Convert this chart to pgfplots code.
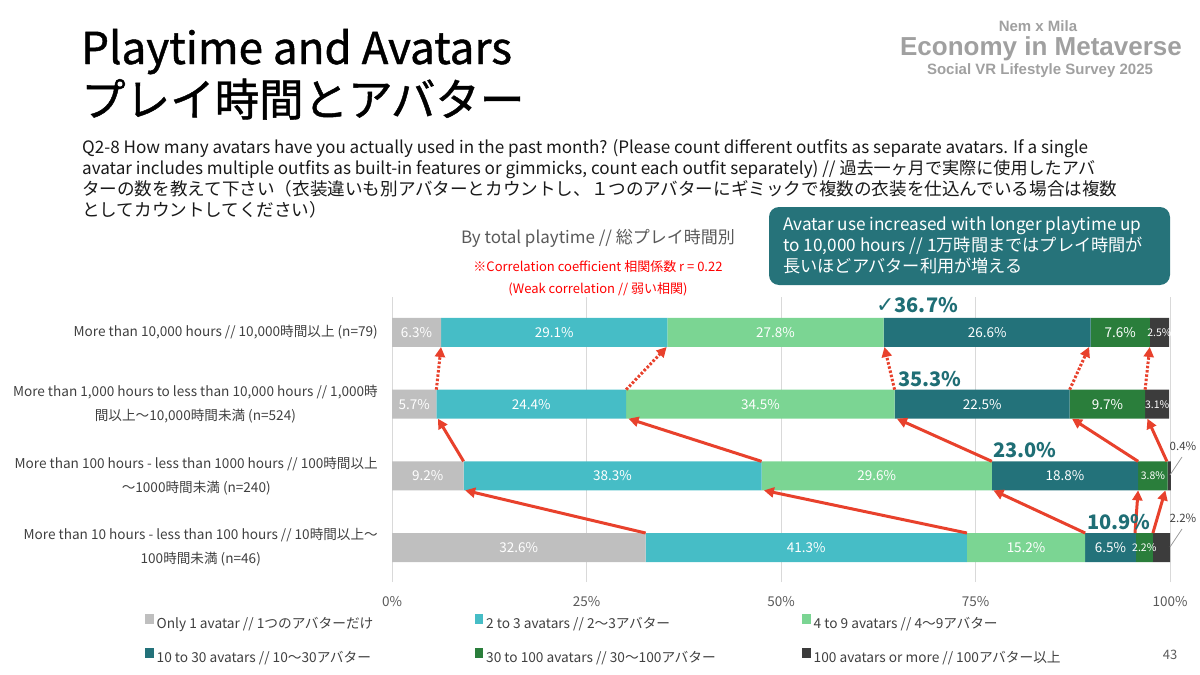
\documentclass[border=0pt]{standalone}
\usepackage{pgfplots}
\pgfplotsset{compat=1.18}
\usetikzlibrary{arrows.meta}
\usepackage{fontspec}
\setmainfont{Noto Sans CJK JP}
\newfontfamily\titlefont{Noto Sans CJK JP}[FakeBold=1]
\newfontfamily\logofont{Liberation Sans}
\newfontfamily\dejavu{DejaVu Sans}
\newcommand\fs[2]{\fontsize{#1bp}{#2bp}\selectfont}
\definecolor{c1}{HTML}{BFBFBF}
\definecolor{c2}{HTML}{46BDC6}
\definecolor{c3}{HTML}{7BD593}
\definecolor{c4}{HTML}{23727A}
\definecolor{c5}{HTML}{2A7E3B}
\definecolor{c6}{HTML}{3C3C3C}
\definecolor{gridc}{HTML}{D9D9D9}
\definecolor{tickc}{HTML}{595959}
\definecolor{labc}{HTML}{404040}
\definecolor{redc}{HTML}{E8412C}
\definecolor{annc}{HTML}{1F6E75}
\definecolor{boxc}{HTML}{26737A}
\definecolor{logoc}{HTML}{A0A0A0}
\pgfplotsset{
  geom/.style={at={(392bp,-582bp)}, anchor=south west,
    width=778bp, height=285bp, scale only axis,
    xmin=0, xmax=100, ymin=0.519, ymax=4.495, clip=false}
}
\begin{document}
\begin{tikzpicture}[
  bl/.style={text=white, font=\fs{13.5}{16}, inner sep=0pt},
  bls/.style={text=white, font=\fs{10.5}{12}, inner sep=0pt},
  arr/.style={draw=redc, line width=3bp, -{Triangle[length=10bp,width=10bp]}},
  darr/.style={arr, dash pattern=on 2.5bp off 1.8bp}]
\path[use as bounding box] (0,0) rectangle (1200bp,-675bp);

\begin{axis}[geom,
  xbar stacked, bar width=29bp,
  xtick={0,25,50,75,100}, xticklabels={0\%,25\%,50\%,75\%,100\%},
  ytick={1,2,3,4},
  yticklabels={{More than 10 hours - less than 100 hours // 10時間以上～\\100時間未満 (n=46)},
               {More than 100 hours - less than 1000 hours // 100時間以上\\～1000時間未満 (n=240)},
               {More than 1,000 hours to less than 10,000 hours // 1,000時\\間以上～10,000時間未満 (n=524)},
               {More than 10,000 hours // 10,000時間以上 (n=79)}},
  xmajorgrids, major grid style={color=gridc, line width=1bp},
  axis line style={draw=none}, major tick length=0pt, tick style={draw=none},
  xticklabel style={font=\fs{13.5}{16}, text=tickc, inner sep=0pt, anchor=center, yshift=-20bp},
  yticklabel style={font=\fs{13.6}{24}, text=labc, align=center, inner sep=0pt, anchor=east, xshift=-14bp},
  legend style={draw=none, fill=none, at={(-0.3175,-0.112)}, anchor=north west,
    font=\fs{13.7}{15}, text=labc, row sep=18.5bp, inner sep=0pt,
    nodes={inner sep=0pt},
    /tikz/every odd column/.style={column sep=3bp},
    /tikz/every even column/.style={column sep=0pt}},
  legend columns=3, legend cell align=left,
  legend image code/.code={\fill[#1] (0bp,-0.5bp) rectangle (8.5bp,9.5bp);},
]
\addplot[fill=c1, draw=none] coordinates {(6.3,4) (5.7,3) (9.2,2) (32.6,1)};
\addlegendentry{\makebox[318bp][l]{Only 1 avatar // 1つのアバターだけ}}
\addplot[fill=c2, draw=none] coordinates {(29.1,4) (24.4,3) (38.3,2) (41.3,1)};
\addlegendentry{\makebox[316bp][l]{2 to 3 avatars // 2～3アバター}}
\addplot[fill=c3, draw=none] coordinates {(27.8,4) (34.5,3) (29.6,2) (15.2,1)};
\addlegendentry{\makebox[318bp][l]{4 to 9 avatars // 4～9アバター}}
\addplot[fill=c4, draw=none] coordinates {(26.6,4) (22.5,3) (18.8,2) (6.5,1)};
\addlegendentry{\makebox[318bp][l]{10 to 30 avatars // 10～30アバター}}
\addplot[fill=c5, draw=none] coordinates {(7.6,4) (9.7,3) (3.8,2) (2.2,1)};
\addlegendentry{\makebox[316bp][l]{30 to 100 avatars // 30～100アバター}}
\addplot[fill=c6, draw=none] coordinates {(2.5,4) (3.1,3) (0.4,2) (2.2,1)};
\addlegendentry{\makebox[318bp][l]{100 avatars or more // 100アバター以上}}
\end{axis}

% overlay axis: labels and arrows
\begin{axis}[geom, axis lines=none]
% arrows row4 -> row3
\addplot[arr] coordinates {(32.6,1.2023) (9.4,1.7977)};
\addplot[arr] coordinates {(73.9,1.2023) (47.8,1.7977)};
\addplot[arr] coordinates {(89.1,1.2023) (77.3,1.7977)};
\addplot[arr] coordinates {(95.5,1.2023) (95.9,1.7977)};
\addplot[arr] coordinates {(97.8,1.2023) (99.4,1.7977)};
% arrows row3 -> row2
\addplot[arr] coordinates {(9.2,2.2023) (5.9,2.7977)};
\addplot[arr] coordinates {(47.5,2.2023) (30.4,2.7977)};
\addplot[arr] coordinates {(77.1,2.2023) (64.9,2.7977)};
\addplot[arr] coordinates {(95.9,2.2023) (87.4,2.7977)};
\addplot[arr] coordinates {(99.6,2.2023) (97.1,2.7977)};
% dotted arrows row2 -> row1
\addplot[darr] coordinates {(5.7,3.2023) (6.3,3.7977)};
\addplot[darr] coordinates {(30.1,3.2023) (35.3,3.7977)};
\addplot[darr] coordinates {(64.6,3.2023) (63.3,3.7977)};
\addplot[darr] coordinates {(87.1,3.2023) (89.6,3.7977)};
\addplot[darr] coordinates {(96.8,3.2023) (97.4,3.7977)};
% bar labels
\node[bl] at (axis cs:3.15,4) {6.3\%};
\node[bl] at (axis cs:20.85,4) {29.1\%};
\node[bl] at (axis cs:49.3,4) {27.8\%};
\node[bl] at (axis cs:76.5,4) {26.6\%};
\node[bl] at (axis cs:93.6,4) {7.6\%};
\node[bls] at (axis cs:98.65,4) {2.5\%};
\node[bl] at (axis cs:2.85,3) {5.7\%};
\node[bl] at (axis cs:17.9,3) {24.4\%};
\node[bl] at (axis cs:47.35,3) {34.5\%};
\node[bl] at (axis cs:75.85,3) {22.5\%};
\node[bl] at (axis cs:91.95,3) {9.7\%};
\node[bls] at (axis cs:98.35,3) {3.1\%};
\node[bl] at (axis cs:4.6,2) {9.2\%};
\node[bl] at (axis cs:28.35,2) {38.3\%};
\node[bl] at (axis cs:62.3,2) {29.6\%};
\node[bl] at (axis cs:86.5,2) {18.8\%};
\node[bls] at (axis cs:97.8,2) {3.8\%};
\node[bl] at (axis cs:16.3,1) {32.6\%};
\node[bl] at (axis cs:53.25,1) {41.3\%};
\node[bl] at (axis cs:81.5,1) {15.2\%};
\node[bl] at (axis cs:92.35,1) {6.5\%};
\node[bls] at (axis cs:96.7,1) {2.2\%};
\end{axis}

\begin{scope}[x=1bp,y=-1bp]
% outside small labels
\draw[color=c1!80!black, line width=0.8bp] (1170,475) -- (1182,457);
\draw[color=c1!80!black, line width=0.8bp] (1170,547) -- (1182,529);
\node[font=\fs{11.5}{13}, text=labc, inner sep=0pt] at (1183,446) {0.4\%};
\node[font=\fs{11.5}{13}, text=labc, inner sep=0pt] at (1183,518) {2.2\%};

% big annotation labels
\node[anchor=west, inner sep=0pt, font=\bfseries\fs{20}{24}, text=annc] at (876,305) {{\dejavu\mdseries\fs{22}{24}✓}36.7\%};
\node[anchor=west, inner sep=0pt, font=\bfseries\fs{20}{24}, text=annc] at (898,379) {35.3\%};
\node[anchor=west, inner sep=0pt, font=\bfseries\fs{20}{24}, text=annc] at (993,450) {23.0\%};
\node[anchor=west, inner sep=0pt, font=\bfseries\fs{20}{24}, text=annc] at (1087,522) {10.9\%};

% title
\node[anchor=base west, inner sep=0pt, font=\titlefont\fs{44}{50}] at (81,64) {Playtime and Avatars};
\node[anchor=base west, inner sep=0pt, font=\titlefont\fs{44.5}{50}] at (81,116) {プレイ時間とアバター};

% logo
\node[anchor=base, inner sep=0pt, font=\logofont\bfseries\fs{15}{17}, text=logoc] at (1038,31) {Nem x Mila};
\node[anchor=base, inner sep=0pt, font=\logofont\bfseries\fs{26}{30}, text=logoc] at (1041,55) {Economy in Metaverse};
\node[anchor=base, inner sep=0pt, font=\logofont\bfseries\fs{15}{17}, text=logoc] at (1040,74) {Social VR Lifestyle Survey 2025};

% question
\begin{scope}[every node/.style={anchor=base west, inner sep=0pt, font=\fs{17.1}{21}, text=black!90}]
\node at (82,153) {Q2-8 How many avatars have you actually used in the past month? (Please count different outfits as separate avatars. If a single};
\node at (82,174) {avatar includes multiple outfits as built-in features or gimmicks, count each outfit separately) // 過去一ヶ月で実際に使用したアバ};
\node[font=\fs{17.6}{21}] at (82,195) {ターの数を教えて下さい（衣装違いも別アバターとカウントし、１つのアバターにギミックで複数の衣装を仕込んでいる場合は複数};
\node[font=\fs{17.6}{21}] at (82,216) {としてカウントしてください）};
\end{scope}

% subtitle
\node[anchor=base, inner sep=0pt, font=\fs{17}{20}, text=tickc] at (598,243) {By total playtime // 総プレイ時間別};
\node[anchor=base, inner sep=0pt, font=\fs{13}{15}, text=red] at (598,271) {※Correlation coefficient 相関係数 r = 0.22};
\node[anchor=base, inner sep=0pt, font=\fs{13}{15}, text=red] at (598,293) {(Weak correlation // 弱い相関)};

% callout box
\fill[boxc, rounded corners=10bp] (769,207) rectangle (1170,285);
\begin{scope}[every node/.style={anchor=base west, inner sep=0pt, font=\fs{17.2}{21}, text=white}]
\node at (783,230) {Avatar use increased with longer playtime up};
\node at (783,251) {to 10,000 hours // 1万時間まではプレイ時間が};
\node at (783,272) {長いほどアバター利用が増える};
\end{scope}

% page number
\node[inner sep=0pt, font=\fs{13}{15}, text=tickc] at (1170,655) {43};
\end{scope}
\end{tikzpicture}
\end{document}
